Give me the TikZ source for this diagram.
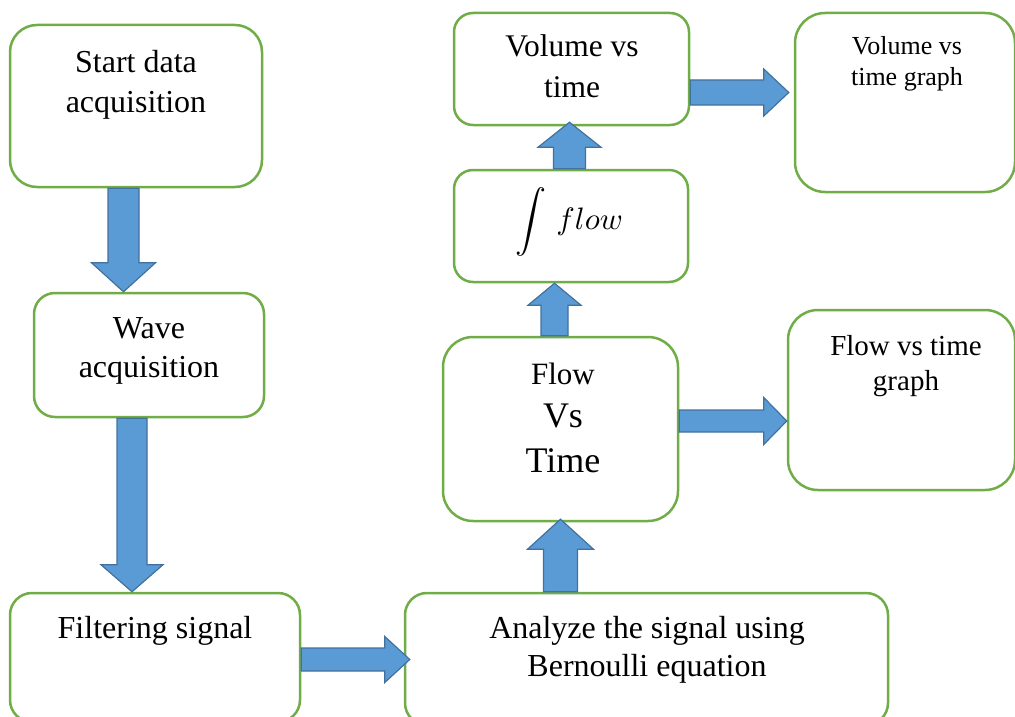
\documentclass[tikz,border=0pt]{standalone}
\usepackage{graphicx}
\usepackage{fontspec}
\setmainfont{Liberation Serif}
\usetikzlibrary{calc}
\definecolor{boxgreen}{RGB}{112,173,71}
\definecolor{arrowblue}{RGB}{91,155,213}
\definecolor{arrowedge}{RGB}{65,113,156}
% block arrow: from, to, shaft half width, head half width, head length
\newcommand\fatarrow[5]{%
	\path ($(#2)!#5!(#1)$) coordinate (hb);
	\draw[fatarrow] ($(#1)!#3!90:(#2)$) -- ($(hb)!#3!-90:(#1)$) -- ($(hb)!#4!-90:(#1)$) -- (#2)
		-- ($(hb)!#4!90:(#1)$) -- ($(hb)!#3!90:(#1)$) -- ($(#1)!#3!-90:(#2)$) -- cycle;
}
\begin{document}
\begin{tikzpicture}[x=1pt,y=-1pt, line join=round,
	stage/.style={draw=boxgreen, fill=white, line width=2.5pt, rounded corners=#1, inner sep=0pt},
	stage/.default=22pt,
	txt/.style 2 args={align=center, inner sep=0pt, anchor=base, font=\fontsize{#1}{#2}\selectfont},
	fatarrow/.style={fill=arrowblue, draw=arrowedge, line width=1.2pt, line join=miter}]
	\useasboundingbox (0,0) rectangle (1015,717);
	\clip (0,0) rectangle (1015,717);
	% boxes
	\node[stage=27pt, minimum width=252pt, minimum height=162pt] (start) at (136,106) {};
	\node[stage=21pt, minimum width=230pt, minimum height=124pt] (wave) at (149,355) {};
	\node[stage, minimum width=290pt, minimum height=129pt] (filter) at (155,657.5) {};
	\node[stage, minimum width=483pt, minimum height=132pt] (analyze) at (646.5,659) {};
	\node[stage=30pt, minimum width=235pt, minimum height=184pt] (flowtime) at (560.5,429) {};
	\node[stage=19pt, minimum width=234pt, minimum height=112pt] (integ) at (571,226) {};
	\node[stage=19pt, minimum width=235pt, minimum height=112pt] (volume) at (571.5,69) {};
	\node[stage=30pt, minimum width=220pt, minimum height=179pt] (volgraph) at (905,102.5) {};
	\node[stage=30pt, minimum width=227pt, minimum height=180pt] (flowgraph) at (901.5,400) {};
	% texts (anchored at the baseline of the last line)
	\node[txt={32}{40}] (start-t) at (136,113) {Start data\\acquisition};
	\node[txt={32}{39}] (wave-t) at (149,377) {Wave\\acquisition};
	\node[txt={32}{38}] (filter-t) at (155,638) {Filtering signal};
	\node[txt={32}{38}] (analyze-t) at (647,676) {Analyze the signal using\\Bernoulli equation};
	\node[txt={31}{43}] (flowtime-t) at (563,472) {Flow\\{\fontsize{36}{42}\selectfont Vs}\\[2pt]{\fontsize{36}{42}\selectfont Time}};
	\node[inner sep=0pt] (integ-t) at (569,222) {\scalebox{3.1}{$\displaystyle\int\,flow$}};
	\node[txt={31.5}{40}] (volume-t) at (572,97) {Volume vs\\time};
	\node[txt={26}{31}] (volgraph-t) at (907,85) {Volume vs\\time graph};
	\node[txt={29}{35}] (flowgraph-t) at (906,390) {Flow vs time\\graph};
	% arrows
	\coordinate (a1) at ($(start.south)+(-12.5,0)$);
	\coordinate (b1) at (a1 |- wave.north);
	\coordinate (a2) at ($(wave.south)+(-17,0)$);
	\coordinate (b2) at (a2 |- filter.north);
	\coordinate (a3) at ($(filter.east)+(0,2)$);
	\coordinate (b3) at ($(a3 -| analyze.west)+(6,0)$);
	\coordinate (a4) at (flowtime.south |- analyze.north);
	\coordinate (b4) at ($(flowtime.south)+(0,-3)$);
	\coordinate (a5) at ($(flowtime.north)+(-6,0)$);
	\coordinate (b5) at (a5 |- integ.south);
	\coordinate (a6) at ($(integ.north)+(-1.5,0)$);
	\coordinate (b6) at ($(a6 |- volume.south)+(0,-4)$);
	\coordinate (a7) at ($(volume.east)+(0,23.5)$);
	\coordinate (b7) at ($(a7 -| volgraph.west)+(-5,0)$);
	\coordinate (a8) at ($(flowtime.east)+(0,-8)$);
	\coordinate (b8) at (a8 -| flowgraph.west);
	\fatarrow{a1}{b1}{15.5pt}{32pt}{29pt}
	\fatarrow{a2}{b2}{15pt}{31pt}{27pt}
	\fatarrow{a3}{b3}{11.5pt}{23pt}{25pt}
	\fatarrow{a4}{b4}{17pt}{33pt}{30pt}
	\fatarrow{a5}{b5}{13.5pt}{26.5pt}{22pt}
	\fatarrow{a6}{b6}{16pt}{31.5pt}{25pt}
	\fatarrow{a7}{b7}{12.5pt}{23.5pt}{25pt}
	\fatarrow{a8}{b8}{11pt}{23.5pt}{23pt}
\end{tikzpicture}
\end{document}
